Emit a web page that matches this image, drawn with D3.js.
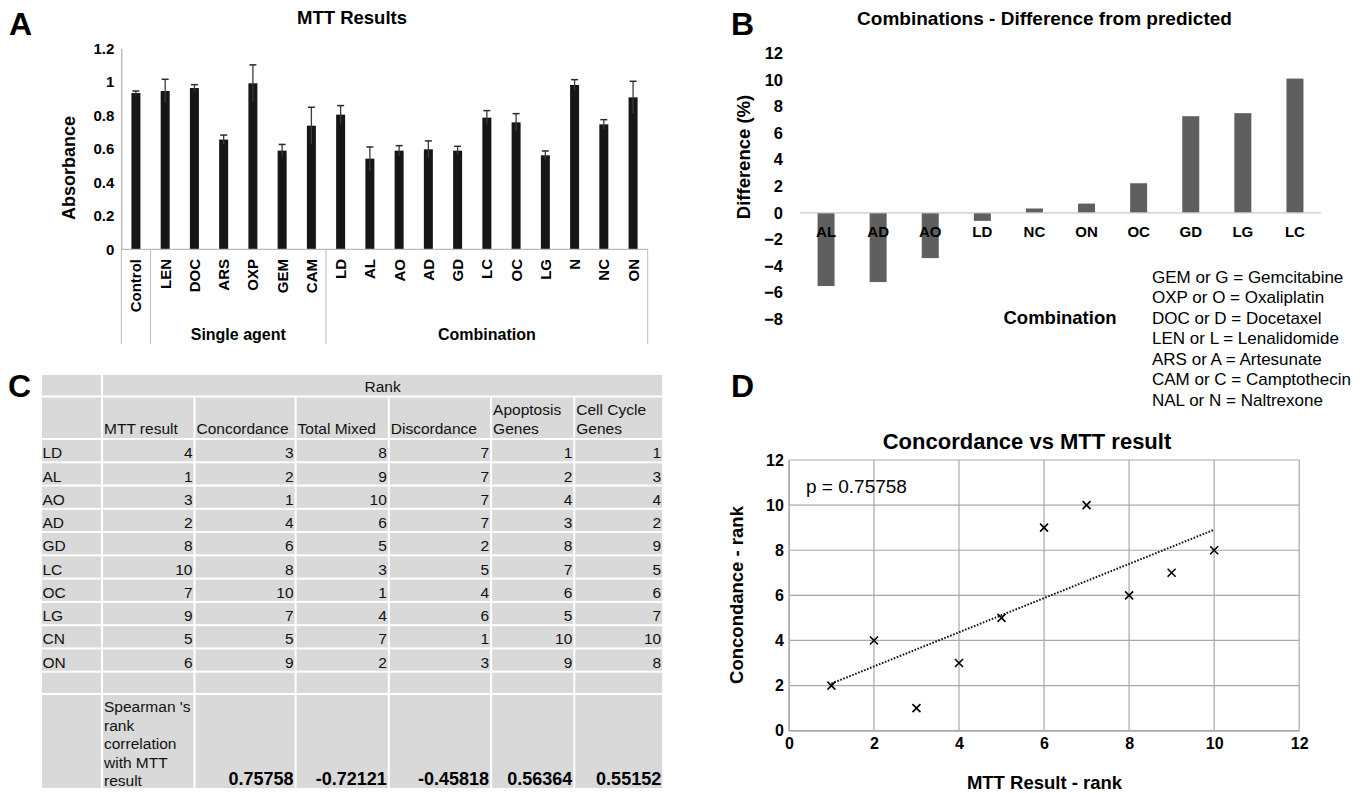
<!DOCTYPE html>
<html lang="en">
<head>
<meta charset="UTF-8">
<title>MTT Results figure</title>
<script src="https://d3js.org/d3.v7.min.js"></script>
<style>
  body { margin: 0; background: #fff; }
  svg { display: block; }
</style>
</head>
<body>
<svg id="fig" width="1369" height="793"></svg>
<script>
// ---- data ----
const mttCats = ["Control", "LEN", "DOC", "ARS", "OXP", "GEM", "CAM", "LD", "AL", "AO", "AD", "GD", "LC", "OC", "LG", "N", "NC", "ON"];
const mttVals = [0.933, 0.945, 0.963, 0.655, 0.991, 0.589, 0.738, 0.804, 0.541, 0.589, 0.597, 0.589, 0.786, 0.758, 0.561, 0.981, 0.746, 0.907];
const mttErr  = [0.012, 0.070, 0.020, 0.027, 0.110, 0.037, 0.110, 0.054, 0.070, 0.030, 0.050, 0.026, 0.042, 0.052, 0.026, 0.032, 0.028, 0.096];
const mttGroups = [
  { name: "", first: 0, last: 0 },
  { name: "Single agent", first: 1, last: 6 },
  { name: "Combination", first: 7, last: 17 }
];
const mttTicks = [0, 0.2, 0.4, 0.6, 0.8, 1, 1.2];

const diffCats = ["AL", "AD", "AO", "LD", "NC", "ON", "OC", "GD", "LG", "LC"];
const diffVals = [-5.5, -5.2, -3.4, -0.6, 0.33, 0.7, 2.23, 7.27, 7.5, 10.1];
const diffTicks = [-8, -6, -4, -2, 0, 2, 4, 6, 8, 10, 12];
const legendLines = [
  "GEM or G = Gemcitabine", "OXP or O = Oxaliplatin", "DOC or D = Docetaxel",
  "LEN or L = Lenalidomide", "ARS or A = Artesunate", "CAM or C = Camptothecin",
  "NAL or N = Naltrexone"
];

const rankRows = ["LD", "AL", "AO", "AD", "GD", "LC", "OC", "LG", "CN", "ON"];
const rankCols = [["MTT result"], ["Concordance"], ["Total Mixed"], ["Discordance"], ["Apoptosis", "Genes"], ["Cell Cycle", "Genes"]];
const rankMTT    = [4, 1, 3, 2, 8, 10, 7, 9, 5, 6];
const rankConc   = [3, 2, 1, 4, 6, 8, 10, 7, 5, 9];
const rankMixed  = [8, 9, 10, 6, 5, 3, 1, 4, 7, 2];
const rankDisc   = [7, 7, 7, 7, 2, 5, 4, 6, 1, 3];
const rankApop   = [1, 2, 4, 3, 8, 7, 6, 5, 10, 9];
const rankCycle  = [1, 3, 4, 2, 9, 5, 6, 7, 10, 8];
const spearman   = ["0.75758", "-0.72121", "-0.45818", "0.56364", "0.55152"];
const spearmanLabel = ["Spearman 's", "rank", "correlation", "with MTT", "result"];

const scatterTicks = [0, 2, 4, 6, 8, 10, 12];

// ---- setup ----
const SANS = "'Liberation Sans',Arial,sans-serif";
const svg = d3.select("#fig");
svg.append("rect").attr("width", 1369).attr("height", 793).attr("fill", "#fff");

function label(g, x, y, s, size, bold, anchor) {
  return g.append("text").attr("x", x).attr("y", y).text(s)
    .attr("text-anchor", anchor || "start")
    .style("font-family", SANS).style("font-size", size + "px")
    .style("font-weight", bold ? "bold" : "normal");
}
label(svg, 9, 35, "A", 32, true);
label(svg, 731, 35, "B", 32, true);
label(svg, 8, 397, "C", 32, true);
label(svg, 731, 397, "D", 32, true);

// ================= Panel A =================
const gA = svg.append("g");
const xA = d3.scaleBand().domain(mttCats).range([121.3, 647.7]);
const yA = d3.scaleLinear().domain([0, 1.2]).range([249.3, 48.3]);

label(gA, 352, 24, "MTT Results", 18.5, true, "middle");

const axA = gA.append("g").attr("transform", "translate(121.3,0)")
  .call(d3.axisLeft(yA).tickValues(mttTicks).tickSize(0).tickPadding(7).tickFormat(d => String(+d.toFixed(1))));
axA.select(".domain").attr("stroke", "#999");
axA.selectAll("text").style("font-family", SANS).style("font-weight", "bold").style("font-size", "15px").attr("fill", "#000");

gA.append("text").attr("transform", "translate(75,168) rotate(-90)").attr("text-anchor", "middle")
  .style("font-family", SANS).style("font-weight", "bold").style("font-size", "18px")
  .text("Absorbance");

const bwA = 9;
gA.selectAll(".barA").data(mttCats).join("rect")
  .attr("x", d => xA(d) + xA.bandwidth() / 2 - bwA / 2)
  .attr("y", (d, i) => yA(mttVals[i]))
  .attr("width", bwA)
  .attr("height", (d, i) => yA(0) - yA(mttVals[i]))
  .attr("fill", "#161616");

// error bars
const eb = gA.selectAll(".err").data(mttCats).join("g")
  .attr("transform", d => `translate(${xA(d) + xA.bandwidth() / 2},0)`);
eb.append("line")
  .attr("y1", (d, i) => yA(mttVals[i] - mttErr[i]))
  .attr("y2", (d, i) => yA(mttVals[i] + mttErr[i]))
  .attr("stroke", "#3a3a3a").attr("stroke-width", 1.3);
eb.append("line").attr("x1", -3.5).attr("x2", 3.5)
  .attr("y1", (d, i) => yA(mttVals[i] + mttErr[i]))
  .attr("y2", (d, i) => yA(mttVals[i] + mttErr[i]))
  .attr("stroke", "#2a2a2a").attr("stroke-width", 1.5);

// category axis
gA.append("line").attr("x1", xA.range()[0]).attr("x2", xA.range()[1]).attr("y1", yA(0)).attr("y2", yA(0))
  .attr("stroke", "#bbb").attr("stroke-width", 1.2);
gA.selectAll(".catA").data(mttCats).join("text")
  .attr("transform", d => `translate(${xA(d) + xA.bandwidth() / 2 + 5.5},259) rotate(-90)`)
  .attr("text-anchor", "end")
  .style("font-family", SANS).style("font-weight", "bold").style("font-size", "15px")
  .text(d => d);

const sepXs = [xA(mttCats[0])].concat(mttGroups.map(g => xA(mttCats[g.last]) + xA.bandwidth()));
gA.selectAll(".sepA").data(sepXs).join("line")
  .attr("x1", d => d).attr("x2", d => d).attr("y1", yA(0)).attr("y2", 344)
  .attr("stroke", "#bbb").attr("stroke-width", 1);
gA.selectAll(".grpA").data(mttGroups.filter(g => g.name)).join("text")
  .attr("x", g => (xA(mttCats[g.first]) + xA(mttCats[g.last]) + xA.bandwidth()) / 2)
  .attr("y", 340).attr("text-anchor", "middle")
  .style("font-family", SANS).style("font-weight", "bold").style("font-size", "16px")
  .text(g => g.name);

// ================= Panel B =================
const gB = svg.append("g");
const xB = d3.scaleBand().domain(diffCats).range([800, 1321]);
const yB = d3.scaleLinear().domain([-8, 12]).range([319.3, 53.3]);

label(gB, 1044.5, 25, "Combinations - Difference from predicted", 19, true, "middle");

const axB = gB.append("g").attr("transform", "translate(800,0)")
  .call(d3.axisLeft(yB).tickValues(diffTicks).tickSize(0).tickPadding(17));
axB.select(".domain").remove();
axB.selectAll("text").style("font-family", SANS).style("font-weight", "bold").style("font-size", "16.5px").attr("fill", "#000");

gB.append("text").attr("transform", "translate(750,157) rotate(-90)").attr("text-anchor", "middle")
  .style("font-family", SANS).style("font-weight", "bold").style("font-size", "18.5px")
  .text("Difference (%)");

const bwB = 17;
gB.selectAll(".barB").data(diffCats).join("rect")
  .attr("x", d => xB(d) + xB.bandwidth() / 2 - bwB / 2)
  .attr("y", (d, i) => yB(Math.max(0, diffVals[i])))
  .attr("width", bwB)
  .attr("height", (d, i) => Math.abs(yB(diffVals[i]) - yB(0)))
  .attr("fill", "#5f5f5f");
gB.append("line").attr("x1", 800).attr("x2", 1321).attr("y1", yB(0)).attr("y2", yB(0))
  .attr("stroke", "#c8c8c8").attr("stroke-width", 1.2);
gB.selectAll(".catB").data(diffCats).join("text")
  .attr("x", d => xB(d) + xB.bandwidth() / 2).attr("y", 237).attr("text-anchor", "middle")
  .style("font-family", SANS).style("font-weight", "bold").style("font-size", "15px")
  .text(d => d);

label(gB, 1060, 323.5, "Combination", 18.5, true, "middle");

svg.selectAll(".legendB").data(legendLines).join("text")
  .attr("x", 1152).attr("y", (d, i) => 282.5 + i * 20.55)
  .style("font-family", SANS).style("font-size", "17px")
  .text(d => d);

// ================= Panel C (table) =================
const gC = svg.append("g");
const colEdges = [41, 102, 194.5, 295.6, 388.8, 491.1, 574.3, 663.2];
const yRows = d3.scaleBand().domain(rankRows).range([439, 671.7]);
const rankData = [rankMTT, rankConc, rankMixed, rankDisc, rankApop, rankCycle];
const cellFill = "#d9d9d9";
const txt = (sel) => sel.style("font-family", SANS).style("font-size", "15.5px").attr("fill", "#111");

function cell(x0, x1, y0, y1) {
  gC.append("rect").attr("x", x0 + 1).attr("y", y0 + 1)
    .attr("width", x1 - x0 - 2).attr("height", y1 - y0 - 2).attr("fill", cellFill);
}
// header rows
cell(colEdges[0], colEdges[1], 374, 396.5);
cell(colEdges[1], colEdges[7], 374, 396.5);
gC.append("text").attr("x", (colEdges[1] + colEdges[7]) / 2).attr("y", 392).attr("text-anchor", "middle")
  .call(txt).text("Rank");
cell(colEdges[0], colEdges[1], 396.5, 439);
rankCols.forEach((lines, c) => {
  cell(colEdges[c + 1], colEdges[c + 2], 396.5, 439);
  lines.forEach((ln, k) => {
    gC.append("text").attr("x", colEdges[c + 1] + 2).attr("y", 434 - (lines.length - 1 - k) * 18.7)
      .call(txt).text(ln);
  });
});
// data rows
rankRows.forEach((r, i) => {
  const y0 = yRows(r), y1 = y0 + yRows.bandwidth();
  cell(colEdges[0], colEdges[1], y0, y1);
  gC.append("text").attr("x", colEdges[0] + 1.5).attr("y", y1 - 4).call(txt).text(r);
  rankData.forEach((col, c) => {
    cell(colEdges[c + 1], colEdges[c + 2], y0, y1);
    gC.append("text").attr("x", colEdges[c + 2] - 2).attr("y", y1 - 4).attr("text-anchor", "end")
      .call(txt).text(col[i]);
  });
});
// empty row
for (let c = 0; c < 7; c++) cell(colEdges[c], colEdges[c + 1], 671.7, 694);
// spearman row
for (let c = 0; c < 7; c++) cell(colEdges[c], colEdges[c + 1], 694, 789);
spearmanLabel.forEach((ln, k) => {
  gC.append("text").attr("x", colEdges[1] + 2).attr("y", 712 + k * 18.5).call(txt).text(ln);
});
spearman.forEach((v, c) => {
  gC.append("text").attr("x", colEdges[c + 3] - 2).attr("y", 785).attr("text-anchor", "end")
    .style("font-family", SANS).style("font-weight", "bold").style("font-size", "18px")
    .text(v);
});

// ================= Panel D (scatter) =================
const gD = svg.append("g");
const xD = d3.scaleLinear().domain([0, 12]).range([788.9, 1299.2]);
const yD = d3.scaleLinear().domain([0, 12]).range([730.7, 460]);

label(gD, 1027, 449, "Concordance vs MTT result", 22, true, "middle");

gD.selectAll(".gx").data(scatterTicks).join("line")
  .attr("x1", d => xD(d)).attr("x2", d => xD(d)).attr("y1", yD(0)).attr("y2", yD(12))
  .attr("stroke", "#a8a8a8").attr("stroke-width", 1.2);
gD.selectAll(".gy").data(scatterTicks).join("line")
  .attr("y1", d => yD(d)).attr("y2", d => yD(d)).attr("x1", xD(0)).attr("x2", xD(12))
  .attr("stroke", "#a8a8a8").attr("stroke-width", 1.2);

const axDx = gD.append("g").attr("transform", `translate(0,${yD(0)})`)
  .call(d3.axisBottom(xD).tickValues(scatterTicks).tickSize(0).tickPadding(7));
const axDy = gD.append("g").attr("transform", `translate(${xD(0)},0)`)
  .call(d3.axisLeft(yD).tickValues(scatterTicks).tickSize(0).tickPadding(5));
[axDx, axDy].forEach(a => {
  a.select(".domain").attr("stroke", "#a8a8a8");
  a.selectAll("text").style("font-family", SANS).style("font-weight", "bold").style("font-size", "16px").attr("fill", "#000");
});

gD.append("text").attr("transform", "translate(743,595) rotate(-90)").attr("text-anchor", "middle")
  .style("font-family", SANS).style("font-weight", "bold").style("font-size", "18.5px")
  .text("Concondance - rank");
label(gD, 1044.5, 789, "MTT Result - rank", 18.5, true, "middle");
label(gD, 806, 493, "p = 0.75758", 19, false);

// trend line (least squares of concordance on MTT rank)
const mx = d3.mean(rankMTT), my = d3.mean(rankConc);
const slope = d3.sum(rankMTT.map((x, i) => (x - mx) * (rankConc[i] - my))) / d3.sum(rankMTT.map(x => (x - mx) ** 2));
const fit = x => my + slope * (x - mx);
const [xmin, xmax] = d3.extent(rankMTT);
gD.append("line")
  .attr("x1", xD(xmin)).attr("y1", yD(fit(xmin)))
  .attr("x2", xD(xmax)).attr("y2", yD(fit(xmax)))
  .attr("stroke", "#111").attr("stroke-width", 2).attr("stroke-dasharray", "1.6,1.6");

const ms = 4;
const pts = gD.selectAll(".pt").data(rankMTT).join("g")
  .attr("transform", (d, i) => `translate(${xD(d)},${yD(rankConc[i])})`);
pts.append("path").attr("d", `M${-ms},${-ms}L${ms},${ms}M${-ms},${ms}L${ms},${-ms}`)
  .attr("stroke", "#000").attr("stroke-width", 1.6);
</script>
</body>
</html>
